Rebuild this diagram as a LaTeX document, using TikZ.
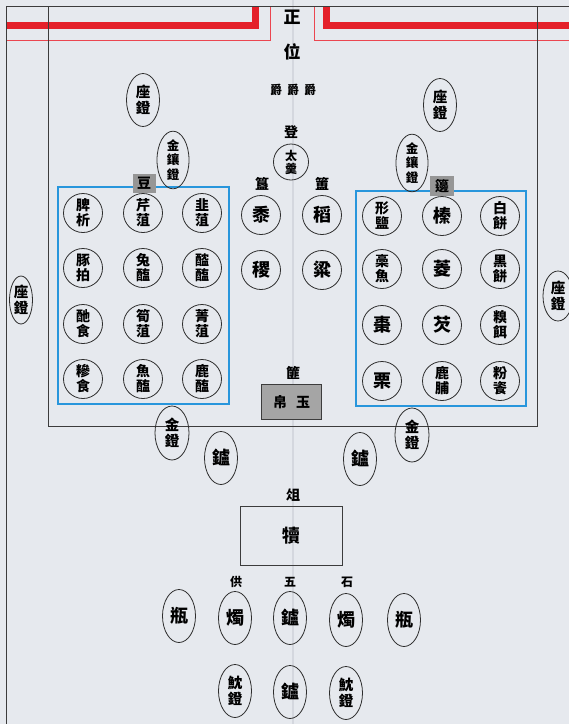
\documentclass[tikz,border=0pt]{standalone}
\usepackage{fontspec}
\newfontfamily\cjk{Noto Sans CJK TC}
\usetikzlibrary{shapes.geometric}
\definecolor{paper}{RGB}{230,233,238}
\definecolor{foldc}{RGB}{212,215,222}
\definecolor{redA}{RGB}{228,32,42}
\definecolor{redB}{RGB}{235,70,80}
\definecolor{blueA}{RGB}{40,150,220}
\definecolor{frameC}{RGB}{60,60,60}
\definecolor{inkC}{RGB}{45,45,45}
\definecolor{labelG}{RGB}{150,150,150}
\definecolor{boxG}{RGB}{165,165,165}
\tikzset{
  frameline/.style={draw=frameC,line width=0.9pt},
  redthick/.style={draw=redA,line width=7pt},
  redthin/.style={draw=redB,line width=1pt},
  bluebox/.style={draw=blueA,line width=1.5pt},
  ch/.style={font=\cjk\bfseries\fontsize{14}{15}\selectfont,align=center,inner sep=0pt,text=black},
  chbig/.style={font=\cjk\bfseries\fontsize{17}{18}\selectfont,align=center,inner sep=0pt,text=black},
  chsmall/.style={font=\cjk\bfseries\fontsize{12}{13}\selectfont,align=center,inner sep=0pt,text=black},
  dish/.style={circle,draw=inkC,line width=0.8pt,minimum size=39pt,inner sep=0pt,align=center,font=\cjk\bfseries\fontsize{14}{15}\selectfont},
  dishone/.style={dish,font=\cjk\bfseries\fontsize{18}{19}\selectfont},
  oval/.style={ellipse,draw=inkC,line width=0.8pt,minimum width=33pt,minimum height=53pt,inner sep=0pt,align=center,font=\cjk\bfseries\fontsize{14.5}{16}\selectfont},
  ovalone/.style={oval,font=\cjk\bfseries\fontsize{18}{19}\selectfont},
  ovalthree/.style={oval,minimum width=32pt,font=\cjk\bfseries\fontsize{12.5}{14.5}\selectfont},
  graylabel/.style={rectangle,fill=labelG,inner sep=0pt,minimum width=23pt,minimum height=19pt,font=\cjk\bfseries\fontsize{14}{15}\selectfont},
}
\begin{document}
\begin{tikzpicture}[x=1pt,y=-1pt]
\useasboundingbox (0,0) rectangle (569,724);
\clip (0,0) rectangle (569,724);
\fill[paper] (0,0) rectangle (569,724);
% fold
\draw[foldc,line width=2pt] (293,0) -- (293,724);
% red borders
\draw[redthick] (6,25) -- (255,25) -- (255,6);
\draw[redthick] (569,25) -- (326,25) -- (326,6);
\draw[redthin] (6,40) -- (270,40) -- (270,6);
\draw[redthin] (569,40) -- (314,40) -- (314,6);
% frame lines
\draw[frameline] (6,724) -- (6,6) -- (569,6);
\draw[frameline] (48,6) -- (48,426) -- (537,426) -- (537,6);
% blue boxes
\draw[bluebox] (58,187) rectangle (229,404);
\draw[bluebox] (356,191) rectangle (526,406);

% top labels
\node[chbig] (zheng) at (292,17) {正};
\node[chbig] (wei) at (292,52) {位};
\node[chsmall] (jue1) at (276,90) {爵};
\node[chsmall] (jue2) at (293,90) {爵};
\node[chsmall] (jue3) at (310,90) {爵};
\node[ch] (deng) at (291,132) {登};
\node[ellipse,draw=inkC,line width=0.8pt,minimum width=35pt,minimum height=36pt,inner sep=0pt,align=center,font=\cjk\bfseries\fontsize{12}{13}\selectfont] (taigeng) at (291,162) {太\\羹};

% lamps top
\node[oval] (zuoL) at (143,100) {座\\鐙};
\node[oval] (zuoR) at (440,105) {座\\鐙};
\node[ovalthree] (jxL) at (173,160) {金\\鑲\\鐙};
\node[ovalthree] (jxR) at (412,163) {金\\鑲\\鐙};
\node[oval,minimum width=23pt,minimum height=48pt] (zuoFL) at (21,300) {座\\鐙};
\node[oval,minimum width=30pt,minimum height=50pt] (zuoFR) at (558,296) {座\\鐙};

% labels of groups
\node[graylabel] (dou) at (144,183) {豆};
\node[graylabel,minimum width=24pt,minimum height=20pt] (bian) at (442,186) {籩};
\node[ch] (gui) at (262,184) {簋};
\node[ch] (fu) at (322,184) {簠};

% left dou dishes
\node[dish] (d11) at (83,213) {脾\\析};
\node[dish] (d12) at (143,213) {芹\\菹};
\node[dish] (d13) at (202,213) {韭\\菹};
\node[dish] (d21) at (83,268) {豚\\拍};
\node[dish] (d22) at (143,268) {兔\\醢};
\node[dish] (d23) at (202,268) {醓\\醢};
\node[dish] (d31) at (83,324) {酏\\食};
\node[dish] (d32) at (143,324) {筍\\菹};
\node[dish] (d33) at (202,324) {菁\\菹};
\node[dish] (d41) at (83,379) {糝\\食};
\node[dish] (d42) at (143,379) {魚\\醢};
\node[dish] (d43) at (202,379) {鹿\\醢};

% right bian dishes
\node[dish] (b11) at (382,216) {形\\鹽};
\node[dishone] (b12) at (442,216) {榛};
\node[dish] (b13) at (500,216) {白\\餅};
\node[dish] (b21) at (382,269) {槀\\魚};
\node[dishone] (b22) at (442,269) {菱};
\node[dish] (b23) at (500,269) {黑\\餅};
\node[dishone] (b31) at (382,325) {棗};
\node[dishone] (b32) at (442,325) {芡};
\node[dish] (b33) at (500,325) {糗\\餌};
\node[dishone] (b41) at (382,381) {栗};
\node[dish] (b42) at (442,381) {鹿\\脯};
\node[dish] (b43) at (500,381) {粉\\餈};

% grains
\node[dishone] (shu) at (261,215) {黍};
\node[dishone] (dao) at (322,215) {稻};
\node[dishone] (ji) at (261,270) {稷};
\node[dishone] (liang) at (322,270) {粱};

% fei
\node[ch] (fei) at (293,373) {篚};
\node[rectangle,draw=frameC,fill=boxG,line width=0.8pt,minimum width=60pt,minimum height=35pt,inner sep=0pt] (boxby) at (291,402) {};
\node[ch] (bo) at (280,402) {帛};
\node[ch] (yu) at (303,402) {玉};

% lower lamps
\node[oval,minimum width=34pt,minimum height=54pt] (jdL) at (172,433) {金\\鐙};
\node[oval,minimum width=34pt,minimum height=54pt] (jdR) at (412,435) {金\\鐙};
\node[ovalone] (luL) at (221,458) {鑪};
\node[ovalone] (luR) at (360,459) {鑪};

% zu
\node[ch] (zu) at (293,495) {俎};
\node[rectangle,draw=frameC,line width=0.8pt,minimum width=102pt,minimum height=59pt,inner sep=0pt,font=\cjk\bfseries\fontsize{18}{19}\selectfont] (du) at (291,535.5) {犢};

% five offerings
\node[chsmall] (gong) at (236,582) {供};
\node[chsmall] (wu) at (290,582) {五};
\node[chsmall] (shi) at (347,582) {石};
\node[ovalone] (pingL) at (179,616) {瓶};
\node[ovalone] (zhuL) at (235,618) {燭};
\node[ovalone] (luC) at (290,618) {鑪};
\node[ovalone] (zhuR) at (346,620) {燭};
\node[ovalone] (pingR) at (404,620) {瓶};
\node[oval] (shenL) at (235,691) {魫\\鐙};
\node[ovalone] (luB) at (290,692) {鑪};
\node[oval] (shenR) at (346,693) {魫\\鐙};
\end{tikzpicture}
\end{document}
